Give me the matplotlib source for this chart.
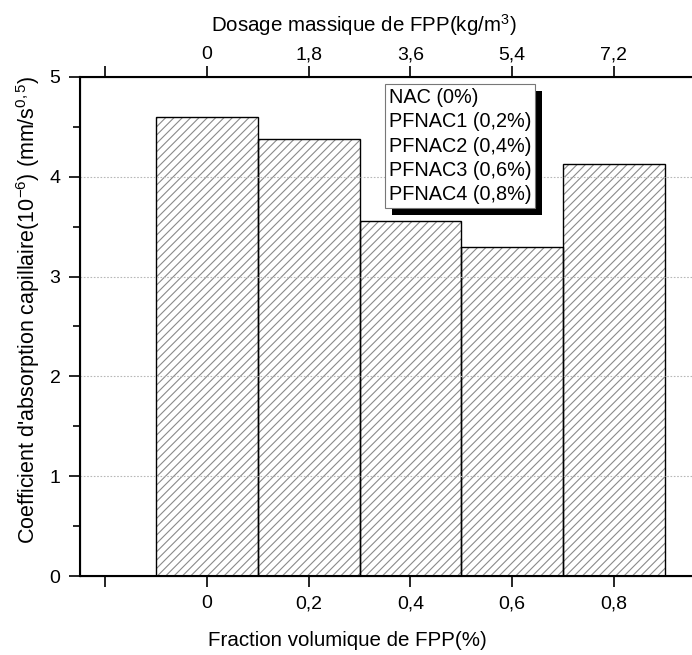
import matplotlib
matplotlib.use("Agg")
import matplotlib.pyplot as plt
from matplotlib.patches import Rectangle
from matplotlib.transforms import IdentityTransform

plt.rcParams['font.family'] = ['Liberation Sans', 'DejaVu Sans']
plt.rcParams['mathtext.fontset'] = 'custom'
plt.rcParams['mathtext.rm'] = 'Liberation Sans'
plt.rcParams['mathtext.it'] = 'Liberation Sans'
plt.rcParams['hatch.linewidth'] = 0.8

fraction = [0, 0.2, 0.4, 0.6, 0.8]
absorption = [4.60, 4.38, 3.56, 3.30, 4.13]
dosage_labels = ['0', '1,8', '3,6', '5,4', '7,2']
fraction_labels = ['', '0', '0,2', '0,4', '0,6', '0,8', '']
fraction_ticks = [-0.2, 0, 0.2, 0.4, 0.6, 0.8, 1.0]
legend_labels = ['NAC (0%)', 'PFNAC1 (0,2%)', 'PFNAC2 (0,4%)',
                 'PFNAC3 (0,6%)', 'PFNAC4 (0,8%)']

fig = plt.figure(figsize=(6.92, 6.55), dpi=100)
ax = fig.add_axes([0.1156, 0.1206, 0.955, 0.762])

# hatched fill in grey, black outline on top
ax.bar(fraction, absorption, width=0.2, color='white', edgecolor='#8a8a8a',
       hatch='////', linewidth=0, zorder=2)
ax.bar(fraction, absorption, width=0.2, fill=False, edgecolor='black',
       linewidth=1.0, zorder=3)

for y in [1, 2, 3, 4]:
    ax.axhline(y, color='#b8b8b8', linestyle=(0, (1.5, 1.5)), linewidth=0.8,
               zorder=4)

ax.set_xlim(-0.25, 1.05)
ax.set_ylim(0, 5)
ax.set_xticks(fraction_ticks)
ax.set_xticklabels(fraction_labels)
ax.set_yticks([0, 1, 2, 3, 4, 5])
ax.set_yticks([0.5, 1.5, 2.5, 3.5, 4.5], minor=True)
ax.tick_params(axis='both', which='major', direction='out', length=8,
               width=1.2, labelsize=14, pad=6)
ax.tick_params(axis='y', which='minor', direction='out', length=5, width=1.2)
for s in ax.spines.values():
    s.set_linewidth(1.5)
ax.spines['right'].set_visible(False)

ax.set_xlabel('Fraction volumique de FPP(%)', fontsize=14.8)
ax.xaxis.set_label_coords(0.404, -0.110)
ax.set_ylabel("Coefficient d'absorption capillaire(10$^{-6}$) (mm/s$^{0,5}$)",
              fontsize=15.5)
ax.yaxis.set_label_coords(-0.058, 0.533)

top = ax.twiny()
top.set_xlim(ax.get_xlim())
top.set_xticks([-0.2] + fraction)
top.set_xticklabels([''] + dosage_labels)
top.tick_params(axis='x', direction='out', length=8, width=1.2,
                labelsize=14, pad=2)
top.spines['right'].set_visible(False)
top.set_xlabel('Dosage massique de FPP(kg/m$^3$)', fontsize=14.8)
top.xaxis.set_label_coords(0.430, 1.09)

handles = [Rectangle((0, 0), 0, 0, visible=False) for _ in legend_labels]
leg = ax.legend(handles, legend_labels, loc='upper left',
                bbox_to_anchor=(0.461, 0.986), borderaxespad=0,
                handlelength=0, handletextpad=0, fontsize=14.3,
                labelspacing=0.27, borderpad=0.2, fancybox=False,
                framealpha=1, edgecolor='#777777')
leg.get_frame().set_linewidth(0.8)
leg.set_zorder(6)

fig.canvas.draw()
bb = leg.get_window_extent()
ax.add_patch(Rectangle((bb.x0 + 7, bb.y0 - 7), bb.width, bb.height,
                       transform=IdentityTransform(), facecolor='black',
                       edgecolor='none', zorder=5.5, clip_on=False))

fig.savefig('out.png', dpi=100)
